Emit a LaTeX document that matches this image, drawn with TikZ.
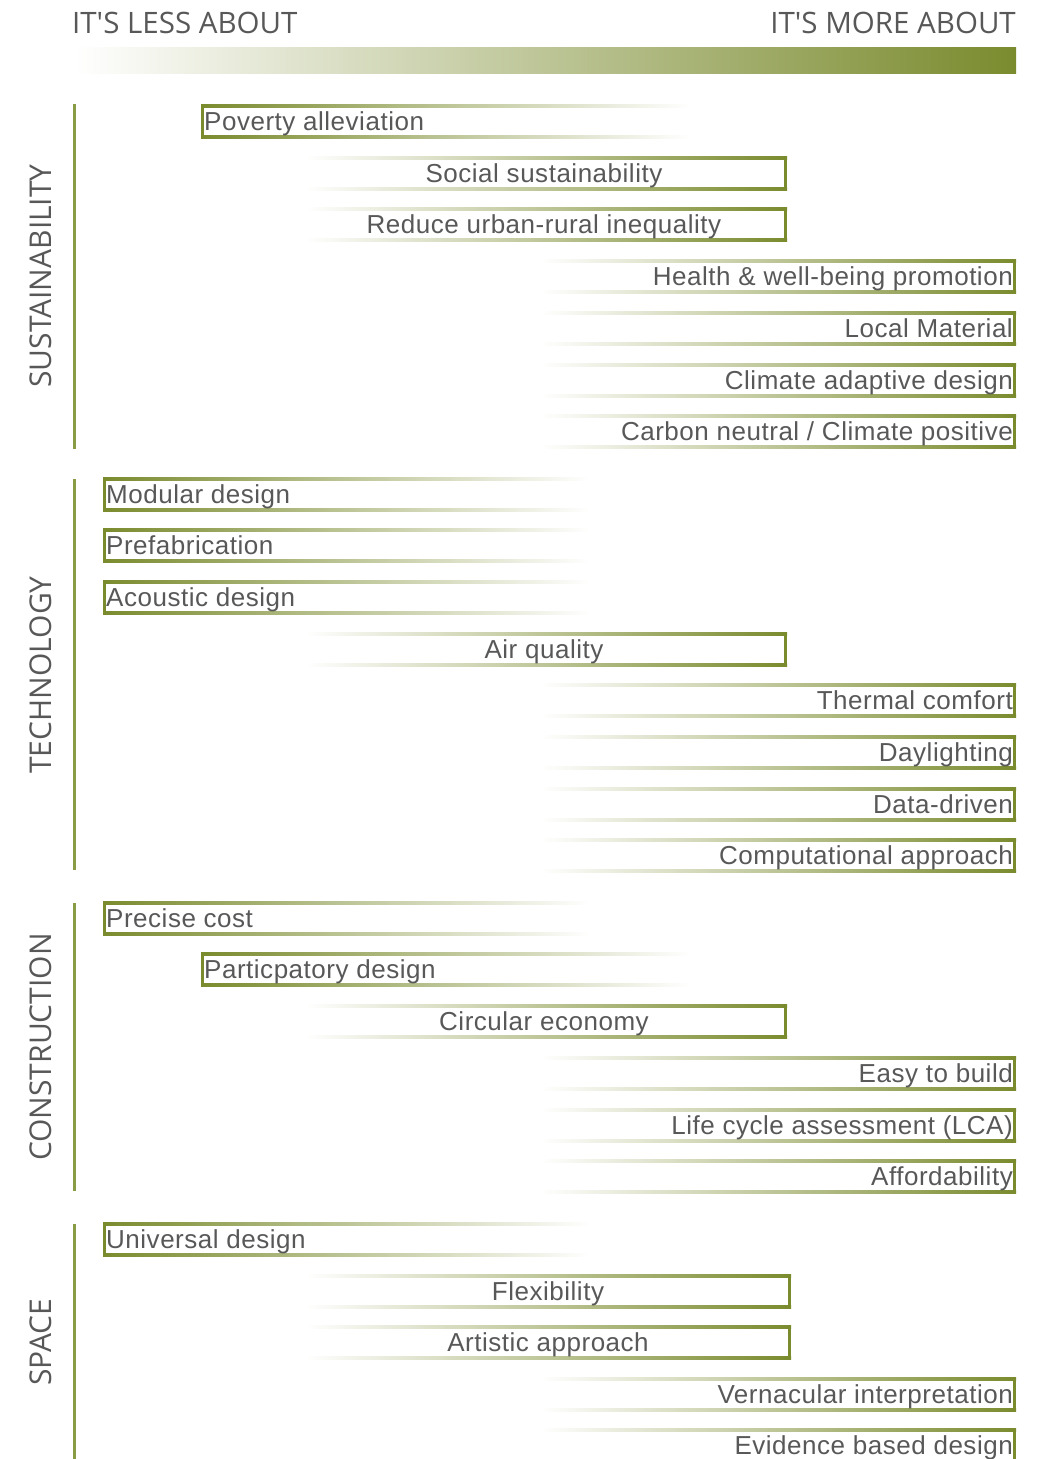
\documentclass[tikz,border=0pt]{standalone}
\usepackage{fontspec}
\setmainfont{Liberation Sans}
\newfontfamily\fuenteitem[LetterSpace=2]{Liberation Sans}
\newfontfamily\titulo{Open Sans}
\usepackage{xcolor}

\definecolor{oliva}{HTML}{7A8B2E}
\definecolor{olivacat}{HTML}{8A9B45}
\definecolor{gristexto}{HTML}{585858}

\tikzset{
  item/.style={font=\fuenteitem\fontsize{26}{30}\selectfont, text=gristexto, inner sep=0pt},
  cabecera/.style={font=\titulo\fontsize{29.5}{34}\selectfont, text=gristexto, inner sep=0pt},
  categoria/.style={font=\titulo\fontsize{30}{34}\selectfont, text=gristexto, inner sep=0pt, rotate=90, anchor=base},
  lineacat/.style={draw=olivacat, line width=3pt},
}

% Barra que se desvanece hacia la derecha: x inicial, x final, y superior
\newcommand{\barraIzq}[3]{%
  \shade[left color=oliva, right color=white] (#1,#3) rectangle (#2,#3+3);
  \shade[left color=oliva, right color=white] (#1,#3+31) rectangle (#2,#3+34);
  \fill[oliva] (#1,#3) rectangle (#1+3,#3+34);
}

% Barra que se desvanece hacia la izquierda: x inicial, x final, y superior
\newcommand{\barraDer}[3]{%
  \shade[left color=white, right color=oliva] (#1,#3) rectangle (#2,#3+3);
  \shade[left color=white, right color=oliva] (#1,#3+31) rectangle (#2,#3+34);
  \fill[oliva] (#2-3,#3) rectangle (#2,#3+34);
}

\begin{document}
\begin{tikzpicture}[x=1pt, y=-1pt]
        \useasboundingbox (0,0) rectangle (1040,1459);

        % Paso 1: Encabezados y barra de degradado
        \node[cabecera, anchor=base west] (menos) at (72,33) {IT\textquotesingle S LESS ABOUT};
        \node[cabecera, anchor=base east] (mas) at (1016,33) {IT\textquotesingle S MORE ABOUT};
        \shade[left color=white, right color=oliva] (75,47) rectangle (1016,73);

        % Paso 2: Lineas verticales y nombres de las categorias
        \draw[lineacat] (74,104) -- (74,449);
        \draw[lineacat] (74,479) -- (74,870);
        \draw[lineacat] (74,903) -- (74,1191);
        \draw[lineacat] (74,1224) -- (74,1459);
        \node[categoria] (sos) at (51,276) {SUSTAINABILITY};
        \node[categoria] (tec) at (51,675) {TECHNOLOGY};
        \node[categoria] (con) at (51,1047) {CONSTRUCTION};
        \node[categoria] (esp) at (51,1342) {SPACE};

        % Paso 3: Barras largas con el extremo solido a la izquierda
        \foreach \y/\nom/\txt in {477/modular/Modular design, 528/prefab/Prefabrication,
            580/acustica/Acoustic design, 901/costo/Precise cost, 1222/universal/Universal design}{
          \barraIzq{103}{590}{\y}
          \node[item, anchor=base west] (\nom) at (106,\y+26) {\txt};
        }

        % Paso 4: Barras medias con el extremo solido a la izquierda
        \foreach \y/\nom/\txt in {104/pobreza/Poverty alleviation, 952/participa/Particpatory design}{
          \barraIzq{201}{690}{\y}
          \node[item, anchor=base west] (\nom) at (204,\y+26) {\txt};
        }

        % Paso 5: Barras centrales con el extremo solido a la derecha
        \foreach \y/\nom/\txt in {156/social/Social sustainability, 207/desigual/Reduce urban-rural inequality,
            632/aire/Air quality, 1004/circular/Circular economy}{
          \barraDer{305}{787}{\y}
          \node[item, anchor=base] (\nom) at (544,\y+26) {\txt};
        }
        \foreach \y/\nom/\txt in {1274/flexible/Flexibility, 1325/artistico/Artistic approach}{
          \barraDer{305}{791}{\y}
          \node[item, anchor=base] (\nom) at (548,\y+26) {\txt};
        }

        % Paso 6: Barras con el extremo solido en el borde derecho
        \foreach \y/\nom/\txt in {259/salud/Health \& well-being promotion, 311/local/Local Material,
            363/clima/Climate adaptive design, 414/carbono/{Carbon neutral / Climate positive},
            683/termico/Thermal comfort, 735/luz/Daylighting, 787/datos/Data-driven,
            838/computo/Computational approach, 1056/facil/Easy to build,
            1108/ciclo/Life cycle assessment (LCA), 1159/asequible/Affordability,
            1377/vernacula/Vernacular interpretation, 1428/evidencia/Evidence based design}{
          \barraDer{540}{1016}{\y}
          \node[item, anchor=base east] (\nom) at (1013,\y+26) {\txt};
        }
    \end{tikzpicture}
\end{document}
